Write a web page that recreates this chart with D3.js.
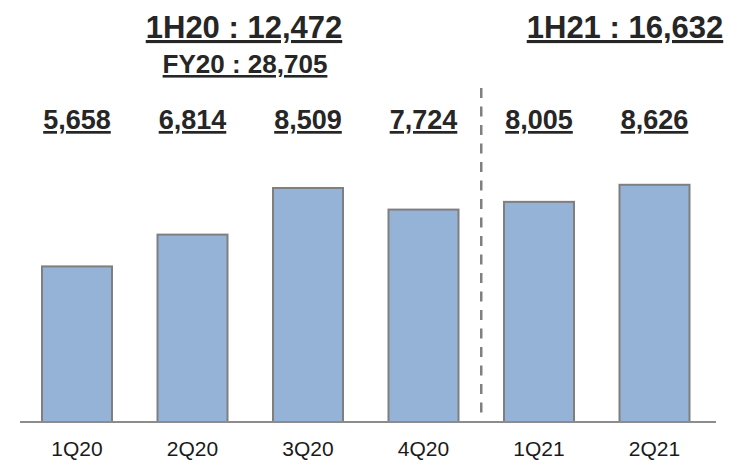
<!DOCTYPE html>
<html lang="en">
<head>
    <meta charset="UTF-8">
    <title>Quarterly Bars</title>
    <script src="https://d3js.org/d3.v7.min.js"></script>
    <style>
        body {
            margin: 0;
            background: #fff;
            font-family: Arial, "Liberation Sans", sans-serif;
        }
    </style>
</head>
<body>
    <div id="chart"></div>

    <script>
        // Data
        const quarters = ['1Q20', '2Q20', '3Q20', '4Q20', '1Q21', '2Q21'];
        const values = [5658, 6814, 8509, 7724, 8005, 8626];
        const valueLabels = ['5,658', '6,814', '8,509', '7,724', '8,005', '8,626'];
        const summaryLabels = ['1H20 : 12,472', 'FY20 : 28,705', '1H21 : 16,632'];

        const width = 729;
        const height = 461;
        const baseline = 422;

        const svg = d3.select('#chart')
            .append('svg')
            .attr('width', width)
            .attr('height', height);

        // Scales
        const x = d3.scaleBand()
            .domain(quarters)
            .range([19.25, 712.25])
            .paddingInner(0.394)
            .paddingOuter(0.197);

        const y = d3.scaleLinear()
            .domain([0, 10000])
            .range([baseline, baseline - 275]);

        // Bars
        svg.selectAll('rect.bar')
            .data(values)
            .enter()
            .append('rect')
            .attr('class', 'bar')
            .attr('x', (d, i) => x(quarters[i]))
            .attr('y', d => y(d))
            .attr('width', x.bandwidth())
            .attr('height', d => baseline - y(d))
            .attr('fill', '#95b3d7')
            .attr('stroke', '#7f7f7f')
            .attr('stroke-width', 2);

        // Baseline
        svg.append('line')
            .attr('x1', 20)
            .attr('x2', 716)
            .attr('y1', baseline)
            .attr('y2', baseline)
            .attr('stroke', '#8c8c8c')
            .attr('stroke-width', 2);

        // Category labels
        svg.selectAll('text.cat')
            .data(quarters)
            .enter()
            .append('text')
            .attr('class', 'cat')
            .attr('x', d => x(d) + x.bandwidth() / 2)
            .attr('y', 456)
            .attr('text-anchor', 'middle')
            .style('font-size', '21px')
            .style('fill', '#1a1a1a')
            .text(d => d);

        // Divider between 2020 and 2021
        const divX = (x('4Q20') + x.bandwidth() + x('1Q21')) / 2;
        svg.append('line')
            .attr('x1', divX)
            .attr('x2', divX)
            .attr('y1', 88)
            .attr('y2', 416)
            .attr('stroke', '#808080')
            .attr('stroke-width', 2.5)
            .attr('stroke-dasharray', '10,8.5');

        // Value labels
        svg.selectAll('text.val')
            .data(valueLabels)
            .enter()
            .append('text')
            .attr('class', 'val')
            .attr('x', (d, i) => x(quarters[i]) + x.bandwidth() / 2)
            .attr('y', 129)
            .attr('text-anchor', 'middle')
            .style('font-size', '27px')
            .style('font-weight', 'bold')
            .style('fill', '#262626')
            .style('text-decoration', 'underline')
            .text(d => d);

        // Summary labels
        const summaries = [
            { text: summaryLabels[0], x: 244, y: 38, size: 31 },
            { text: summaryLabels[1], x: 245, y: 73, size: 26 },
            { text: summaryLabels[2], x: 625, y: 38, size: 31 }
        ];
        svg.selectAll('text.sum')
            .data(summaries)
            .enter()
            .append('text')
            .attr('class', 'sum')
            .attr('x', d => d.x)
            .attr('y', d => d.y)
            .attr('text-anchor', 'middle')
            .style('font-size', d => d.size + 'px')
            .style('font-weight', 'bold')
            .style('fill', '#262626')
            .style('text-decoration', 'underline')
            .text(d => d.text);
    </script>
</body>
</html>
